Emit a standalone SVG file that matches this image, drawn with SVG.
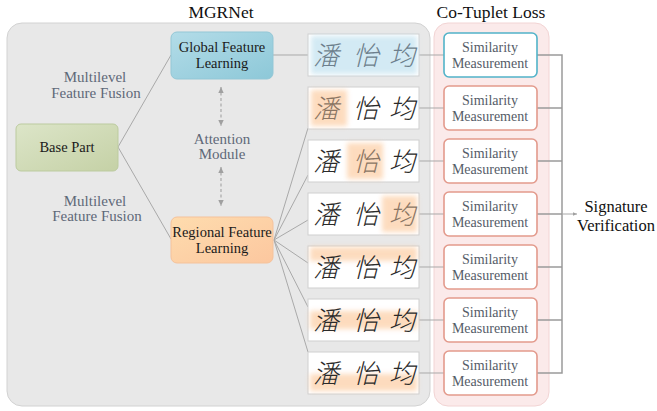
<svg xmlns="http://www.w3.org/2000/svg" width="657" height="411" viewBox="0 0 657 411">
<defs>
<linearGradient id="gBlue" x1="0" y1="0" x2="1" y2="1"><stop offset="0" stop-color="#b3dce8"/><stop offset="1" stop-color="#8dc8d8"/></linearGradient>
<linearGradient id="gGreen" x1="0" y1="0" x2="1" y2="1"><stop offset="0" stop-color="#dce5c8"/><stop offset="1" stop-color="#c5d1a6"/></linearGradient>
<linearGradient id="gOrange" x1="0" y1="0" x2="1" y2="1"><stop offset="0" stop-color="#fedcae"/><stop offset="1" stop-color="#fcc79f"/></linearGradient>
<filter id="blur" x="-20%" y="-40%" width="140%" height="180%"><feGaussianBlur stdDeviation="2.5"/></filter>
<marker id="arr" viewBox="0 0 10 10" refX="9" refY="5" markerWidth="6" markerHeight="6" orient="auto-start-reverse"><path d="M0,1 L9,5 L0,9 z" fill="#a0a0a0"/></marker>
<marker id="arrS" viewBox="0 0 10 10" refX="9" refY="5" markerWidth="5" markerHeight="5" orient="auto"><path d="M0,1 L9,5 L0,9 z" fill="#a0a0a0"/></marker>
</defs>
<style>
text{font-family:"Liberation Serif","Times New Roman","DejaVu Serif",serif}
.title{font-size:17.5px;fill:#111;text-anchor:middle}
.node{font-size:14.5px;fill:#1a1a1a;text-anchor:middle}
.lab{font-size:15px;fill:#5f6878;text-anchor:middle}
.sim{font-size:14px;fill:#555c68;text-anchor:middle}
.out{font-size:16.5px;fill:#111;text-anchor:middle}
.sigbox{fill:#fff;stroke:#cfcfcf;stroke-width:1}
.simbox{fill:#fff;stroke:#e39a8c;stroke-width:1.6}
.simbox.g{stroke:#52b3c9}
.hl{fill:#fcc99c;opacity:0.65;filter:url(#blur)}
text.ch{font-family:"Noto Sans CJK SC","Noto Sans CJK JP",sans-serif;font-size:26px;font-weight:200;font-style:italic;fill:#2a2a2a;text-anchor:middle}
text.ch.h{fill:#8a7563}
text.ch.b{fill:#6d7f8c}
.ln{stroke:#a9a9a9;stroke-width:1;fill:none}
.bus{stroke:#9a9a9a;stroke-width:1.5;fill:none}
</style>

<!-- panels -->
<rect x="7" y="23" width="423" height="383" rx="15" fill="#e8e8e8" stroke="#d2d2d2"/>
<rect x="434" y="23" width="115" height="383" rx="14" fill="#fbeaea" stroke="#f2d4d4"/>
<text class="title" x="221" y="18">MGRNet</text>
<text class="title" x="491" y="18">Co-Tuplet Loss</text>

<!-- connectors -->
<g id="connectors">
<line class="ln" x1="118" y1="147" x2="171" y2="55"/>
<line class="ln" x1="118" y1="147" x2="171" y2="239"/>
<line class="ln" x1="273" y1="55" x2="308" y2="55"/>
<line class="ln" x1="274" y1="240" x2="308" y2="128"/>
<line class="ln" x1="274" y1="240" x2="308" y2="175"/>
<line class="ln" x1="274" y1="240" x2="308" y2="220"/>
<line class="ln" x1="274" y1="240" x2="308" y2="263"/>
<line class="ln" x1="274" y1="240" x2="308" y2="307"/>
<line class="ln" x1="274" y1="240" x2="308" y2="352"/>
<line stroke="#a8a8a8" stroke-width="1.2" stroke-dasharray="3,2.5" x1="221" y1="87" x2="221" y2="126" marker-start="url(#arr)" marker-end="url(#arr)"/>
<line stroke="#a8a8a8" stroke-width="1.2" stroke-dasharray="3,2.5" x1="221" y1="167" x2="221" y2="206" marker-start="url(#arr)" marker-end="url(#arr)"/>
<line class="ln" x1="419" y1="55" x2="444" y2="55"/>
<line class="ln" x1="419" y1="108" x2="444" y2="108"/>
<line class="ln" x1="419" y1="161" x2="444" y2="161"/>
<line class="ln" x1="419" y1="214" x2="444" y2="214"/>
<line class="ln" x1="419" y1="267" x2="444" y2="267"/>
<line class="ln" x1="419" y1="320" x2="444" y2="320"/>
<line class="ln" x1="419" y1="373" x2="444" y2="373"/>
<path class="bus" d="M537,55 H562 V373 H537 M537,108 H562 M537,161 H562 M537,214 H562 M537,267 H562 M537,320 H562"/>
<line stroke="#a8a8a8" stroke-width="1" x1="562" y1="214" x2="577" y2="214" marker-end="url(#arrS)"/>
</g>

<!-- labels -->
<text class="lab" x="95" y="82">Multilevel</text>
<text class="lab" x="96" y="98">Feature Fusion</text>
<text class="lab" x="95" y="206">Multilevel</text>
<text class="lab" x="97" y="221">Feature Fusion</text>
<g id="attention"><text class="lab" x="222" y="144">Attention</text><text class="lab" x="222" y="159">Module</text></g>

<!-- nodes -->
<g id="base"><rect x="16" y="124" width="102" height="47" rx="5" fill="url(#gGreen)" stroke="#bccb9f"/><text class="node" x="67" y="152">Base Part</text></g>
<g id="global"><rect x="171" y="32" width="102" height="47" rx="6" fill="url(#gBlue)" stroke="#93c7d6"/><text class="node" x="222" y="52">Global Feature</text><text class="node" x="222" y="68">Learning</text></g>
<g id="regional"><rect x="171" y="217" width="102" height="46" rx="6" fill="url(#gOrange)" stroke="#f5c29b"/><text class="node" x="222" y="237">Regional Feature</text><text class="node" x="222" y="253">Learning</text></g>

<!-- signature rows -->
<g id="sig1"><rect class="sigbox" x="308" y="34" width="111" height="42"/><rect x="311" y="36" width="106" height="38" fill="#cfe8f3" opacity="0.9" filter="url(#blur)"/><text class="ch b" x="326" y="65">潘</text><text class="ch b" x="366" y="65">怡</text><text class="ch b" x="402" y="65">均</text></g>
<g id="sig2"><rect class="sigbox" x="308" y="87" width="111" height="42"/><rect class="hl" x="311" y="90" width="36" height="36"/><text class="ch h" x="326" y="118">潘</text><text class="ch" x="366" y="118">怡</text><text class="ch" x="402" y="118">均</text></g>
<g id="sig3"><rect class="sigbox" x="308" y="140" width="111" height="42"/><rect class="hl" x="347" y="143" width="36" height="36"/><text class="ch" x="326" y="171">潘</text><text class="ch h" x="366" y="171">怡</text><text class="ch" x="402" y="171">均</text></g>
<g id="sig4"><rect class="sigbox" x="308" y="193" width="111" height="42"/><rect class="hl" x="382" y="196" width="35" height="36"/><text class="ch" x="326" y="224">潘</text><text class="ch" x="366" y="224">怡</text><text class="ch h" x="402" y="224">均</text></g>
<g id="sig5"><rect class="sigbox" x="308" y="246" width="111" height="42"/><rect class="hl" x="310" y="247" width="107" height="14"/><text class="ch" x="326" y="277">潘</text><text class="ch" x="366" y="277">怡</text><text class="ch" x="402" y="277">均</text></g>
<g id="sig6"><rect class="sigbox" x="308" y="299" width="111" height="42"/><rect class="hl" x="310" y="311" width="107" height="18"/><text class="ch" x="326" y="330">潘</text><text class="ch" x="366" y="330">怡</text><text class="ch" x="402" y="330">均</text></g>
<g id="sig7"><rect class="sigbox" x="308" y="352" width="111" height="42"/><rect class="hl" x="310" y="374" width="107" height="17"/><text class="ch" x="326" y="383">潘</text><text class="ch" x="366" y="383">怡</text><text class="ch" x="402" y="383">均</text></g>

<!-- similarity -->
<g id="sim1"><rect class="simbox g" x="444" y="33" width="93" height="44" rx="5"/><text class="sim" x="490" y="52">Similarity</text><text class="sim" x="490" y="68">Measurement</text></g>
<g id="sim2"><rect class="simbox" x="444" y="86" width="93" height="44" rx="5"/><text class="sim" x="490" y="105">Similarity</text><text class="sim" x="490" y="121">Measurement</text></g>
<g id="sim3"><rect class="simbox" x="444" y="139" width="93" height="44" rx="5"/><text class="sim" x="490" y="158">Similarity</text><text class="sim" x="490" y="174">Measurement</text></g>
<g id="sim4"><rect class="simbox" x="444" y="192" width="93" height="44" rx="5"/><text class="sim" x="490" y="211">Similarity</text><text class="sim" x="490" y="227">Measurement</text></g>
<g id="sim5"><rect class="simbox" x="444" y="245" width="93" height="44" rx="5"/><text class="sim" x="490" y="264">Similarity</text><text class="sim" x="490" y="280">Measurement</text></g>
<g id="sim6"><rect class="simbox" x="444" y="298" width="93" height="44" rx="5"/><text class="sim" x="490" y="317">Similarity</text><text class="sim" x="490" y="333">Measurement</text></g>
<g id="sim7"><rect class="simbox" x="444" y="351" width="93" height="44" rx="5"/><text class="sim" x="490" y="370">Similarity</text><text class="sim" x="490" y="386">Measurement</text></g>

<g id="output"><text class="out" x="616" y="212">Signature</text><text class="out" x="616" y="231">Verification</text></g>
</svg>
